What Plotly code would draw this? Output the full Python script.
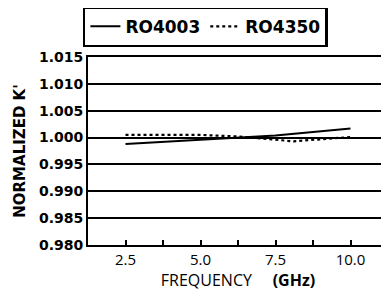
import plotly.graph_objects as go

# Data
freq_4003 = [2.5, 5.0, 7.5, 10.0]
k_4003 = [0.9988, 0.9996, 1.0004, 1.0017]

freq_4350 = [2.5, 5.0, 6.25, 7.5, 8.1, 10.0]
k_4350 = [1.0005, 1.0005, 1.0002, 0.9996, 0.9993, 1.0001]

x_ticks = [2.5, 5.0, 7.5, 10.0]
x_ticktext = ["2.5", "5.0", "7.5", "10.0"]
x_minor = [1.25, 2.5, 3.75, 5.0, 6.25, 7.5, 8.75, 10.0]
y_ticks = [0.980, 0.985, 0.990, 0.995, 1.000, 1.005, 1.010, 1.015]

fig = go.Figure()
fig.add_trace(go.Scatter(x=freq_4003, y=k_4003, mode="lines", name="RO4003",
                         line=dict(color="black", width=2)))
fig.add_trace(go.Scatter(x=freq_4350, y=k_4350, mode="lines", name="RO4350",
                         line=dict(color="black", width=2.2, dash="dot")))

fig.update_layout(
    width=389, height=298,
    margin=dict(l=80, r=9, t=49, b=61, autoexpand=False),
    paper_bgcolor="white", plot_bgcolor="white",
    showlegend=True,
    legend=dict(orientation="h", x=-0.017, y=1.27, xanchor="left", yanchor="top",
                bordercolor="black", borderwidth=2.5, bgcolor="white",
                font=dict(family="DejaVu Sans", size=17, color="black", weight="bold"),
                itemwidth=30, tracegroupgap=0),
    xaxis=dict(range=[1.25, 11.25], tickmode="array", tickvals=x_ticks, ticktext=x_ticktext,
               ticks="inside", ticklen=5, tickwidth=1.5, tickcolor="black",
               minor=dict(ticks="inside", tickmode="array", tickvals=x_minor,
                          ticklen=5, tickwidth=1.5, tickcolor="black"),
               showline=True, linecolor="black", linewidth=2, mirror=True,
               showgrid=False, zeroline=False,
               tickfont=dict(family="Open Sans", size=15, color="black"),
               title=dict(text="FREQUENCY\u00a0\u00a0\u00a0\u00a0\u00a0<b>(GHz)</b>", standoff=6,
                          font=dict(family="Open Sans", size=16, color="black"))),
    yaxis=dict(range=[0.980, 1.015], tickmode="array", tickvals=y_ticks, tickformat=".3f",
               ticks="", showline=True, linecolor="black", linewidth=2, mirror=True,
               showgrid=True, gridcolor="black", gridwidth=1.5, zeroline=False,
               tickfont=dict(family="DejaVu Sans", size=14, color="black", weight="bold"),
               title=dict(text="NORMALIZED K'", standoff=10,
                          font=dict(family="DejaVu Sans", size=15, color="black", weight="bold"))),
)

fig.write_html("out.html")
